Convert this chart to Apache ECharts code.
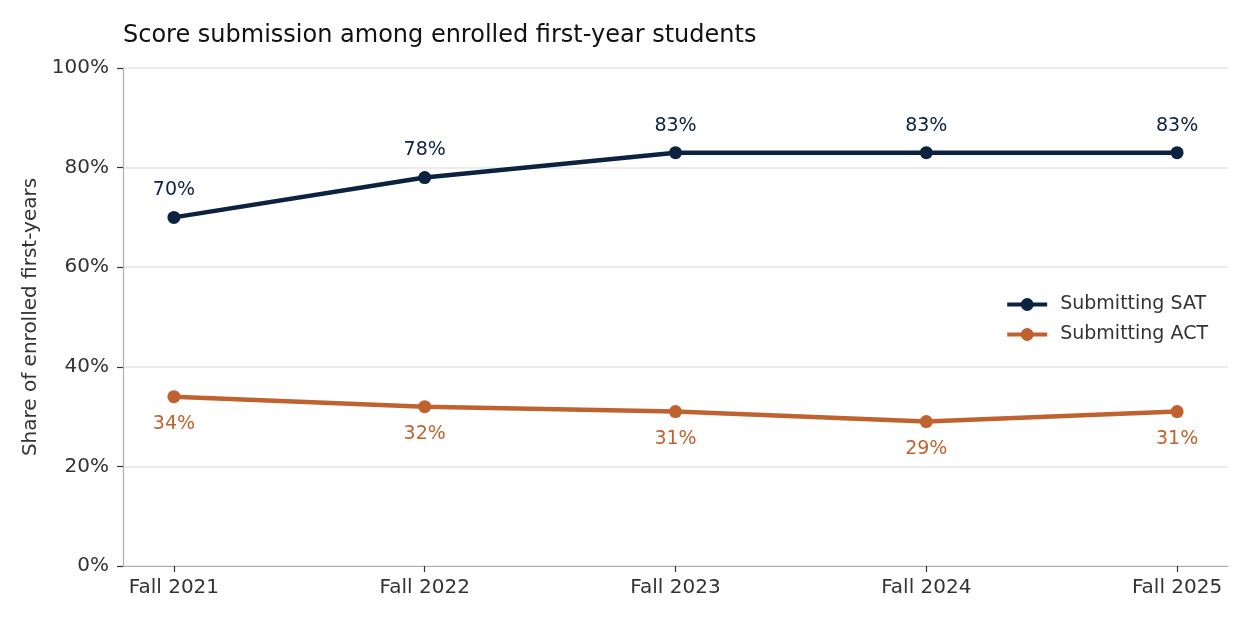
<!DOCTYPE html>
<html><head><meta charset="utf-8">
<script src="https://cdn.jsdelivr.net/npm/echarts@6/dist/echarts.min.js"></script>
<style>html,body{margin:0;padding:0;background:#fff}#c{width:1250px;height:625px}</style>
</head><body><div id="c"></div>
<script>
const categories = ['Fall 2021','Fall 2022','Fall 2023','Fall 2024','Fall 2025'];
const satValues = [70, 78, 83, 83, 83];
const actValues = [34, 32, 31, 29, 31];
const yTicks = [0, 20, 40, 60, 80, 100];

const chart = echarts.init(document.getElementById('c'));
const font = 'DejaVu Sans';
const idx = categories.map((_, i) => i);
chart.setOption({
  animation: false,
  textStyle: {fontFamily: font},
  title: {text: 'Score submission among enrolled first-year students', left: 118, top: 19,
    textStyle: {fontFamily: font, fontSize: 24, fontWeight: 'normal', color: '#111'}},
  grid: {left: 123, right: 22, top: 68, bottom: 59, containLabel: false},
  legend: {orient: 'vertical', right: 37, top: 290, itemWidth: 40, itemHeight: 16, itemGap: 11,
    textStyle: {fontFamily: font, fontSize: 19, color: '#333', padding: [0, 0, 0, 8]},
    lineStyle: {width: 4},
    data: ['Submitting SAT', 'Submitting ACT']},
  xAxis: {type: 'value', min: -0.203, max: 4.203,
    axisLine: {show: true, onZero: false, lineStyle: {color: '#b0b0b0', width: 1.2}},
    axisTick: {show: true, customValues: idx, length: 6, lineStyle: {color: '#333', width: 1.2}},
    axisLabel: {customValues: idx, formatter: v => categories[Math.round(v)] || '', fontSize: 20, color: '#333', margin: 12, fontFamily: font},
    splitLine: {show: false}},
  yAxis: {type: 'value', min: 0, max: 100, interval: 20,
    name: 'Share of enrolled first-years', nameLocation: 'middle', nameGap: 80,
    nameTextStyle: {fontFamily: font, fontSize: 20, color: '#333'},
    axisLine: {show: true, onZero: false, lineStyle: {color: '#b0b0b0', width: 1.2}},
    axisTick: {show: true, length: 6, lineStyle: {color: '#333', width: 1.2}},
    axisLabel: {formatter: v => v + '%', fontSize: 20, color: '#333', margin: 14, fontFamily: font, padding: [3, 0, 0, 0]},
    splitLine: {show: true, lineStyle: {color: '#e6e6e6', width: 1.5}}},
  series: [
    {name: 'Submitting SAT', type: 'line', data: satValues.map((v, i) => [i, v]),
      color: '#0b2240', symbol: 'circle', symbolSize: 13, lineStyle: {width: 4.5},
      label: {show: true, position: 'top', distance: 11, formatter: p => p.value[1] + '%', fontSize: 19, color: '#0b2240', fontFamily: font}},
    {name: 'Submitting ACT', type: 'line', data: actValues.map((v, i) => [i, v]),
      color: '#c0622f', symbol: 'circle', symbolSize: 13, lineStyle: {width: 4.5},
      label: {show: true, position: 'bottom', distance: 11, formatter: p => p.value[1] + '%', fontSize: 19, color: '#c0622f', fontFamily: font}}
  ]
});
</script></body></html>
